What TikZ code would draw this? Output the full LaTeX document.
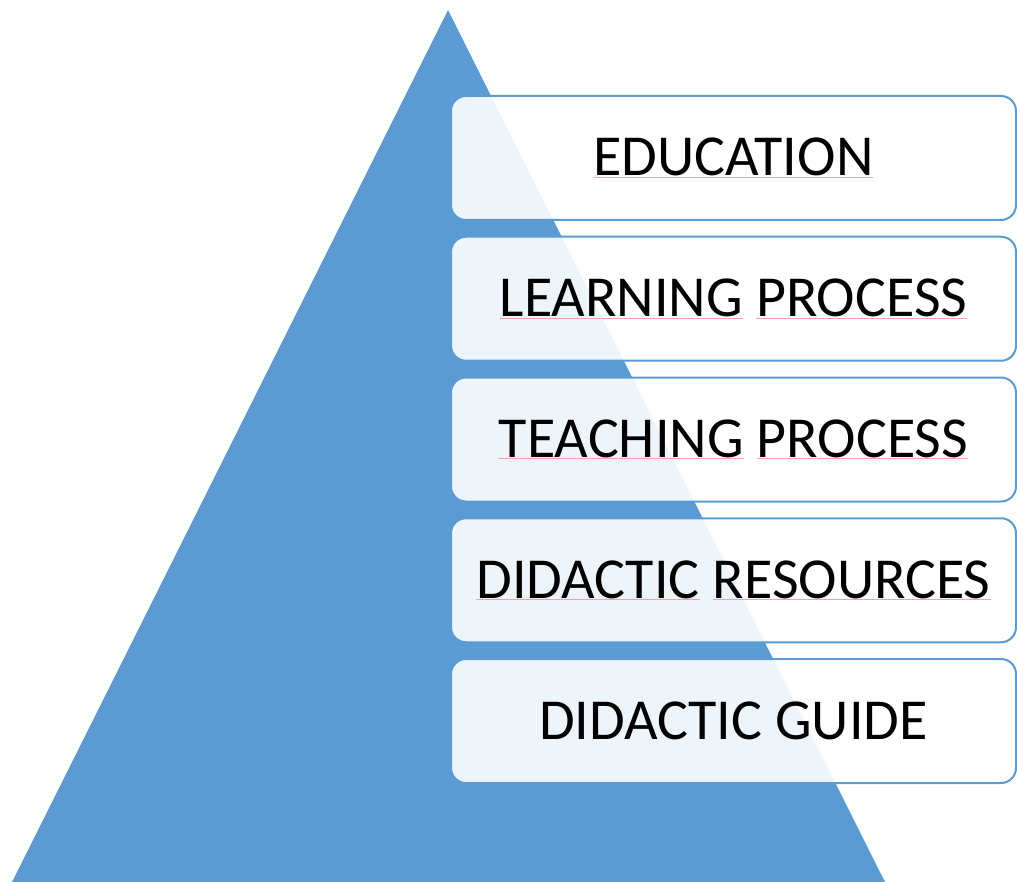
\documentclass[tikz,border=0pt]{standalone}
\usepackage{fontspec}
\setmainfont{Carlito}
\usetikzlibrary{positioning}
\definecolor{pyrblue}{HTML}{5B9BD5}
\definecolor{spellred}{HTML}{F2A3A3}
\newsavebox\wordbox
% thin pink mark under a word
\newcommand\marked[1]{\sbox\wordbox{#1}\rlap{\color{spellred}\rule[-2pt]{\wd\wordbox}{1pt}}\usebox\wordbox}

\begin{document}
\begin{tikzpicture}[x=1pt, y=-1pt, font=\fontsize{58}{70}\selectfont,
     lvl/.style={draw=pyrblue, line width=2pt, fill=white, fill opacity=0.9, text opacity=1,
                 rounded corners=15pt, minimum width=565pt, minimum height=124pt, inner sep=0pt}]
   \useasboundingbox (0,0) rectangle (1017,882);
   % pyramid behind the levels
   \fill[pyrblue] (448,10) -- (885,882) -- (12,882) -- cycle;
   \node[lvl, anchor=north west] (l1) at (450,95) {\marked{EDUCATION}};
   \node[lvl, below=14.75pt of l1] (l2) {\marked{LEARNING} \marked{PROCESS}};
   \node[lvl, below=14.75pt of l2] (l3) {\marked{TEACHING} \marked{PROCESS}};
   \node[lvl, below=14.75pt of l3] (l4) {\marked{DIDACTIC} \marked{RESOURCES}};
   \node[lvl, below=14.75pt of l4] (l5) {DIDACTIC GUIDE};
  \end{tikzpicture}
\end{document}
